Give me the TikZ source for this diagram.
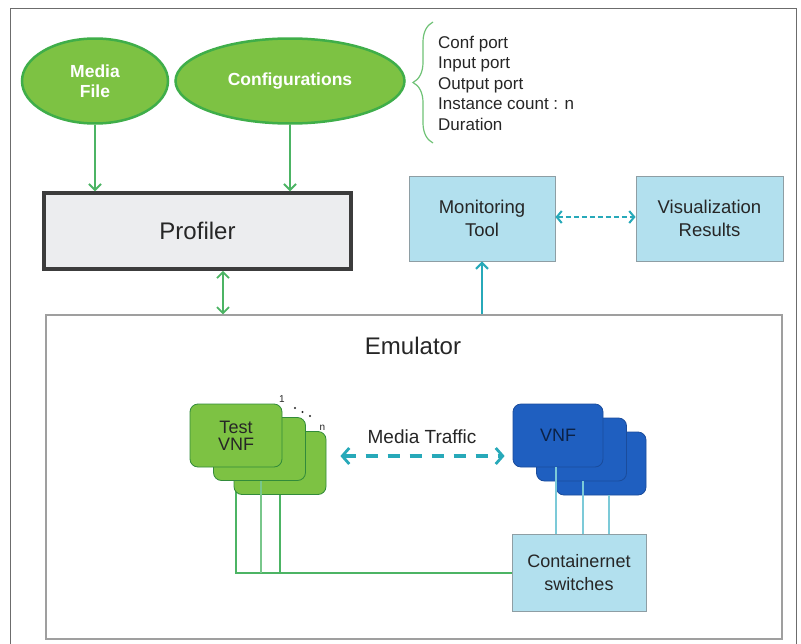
\documentclass[tikz,border=0pt]{standalone}
\usepackage{fontspec}
\setmainfont{Liberation Sans}
\usetikzlibrary{shapes.geometric,arrows.meta,decorations.pathreplacing}

\definecolor{leaf}{HTML}{7DC243}
\definecolor{leafedge}{HTML}{3FAE49}
\definecolor{wire}{HTML}{4CB464}
\definecolor{sky}{HTML}{B2E0EE}
\definecolor{skyedge}{HTML}{8E9EA4}
\definecolor{teal}{HTML}{27A9B9}
\definecolor{navy}{HTML}{1F5FC0}
\definecolor{navyedge}{HTML}{1A4C9C}
\definecolor{ink}{HTML}{262626}
\definecolor{paper}{HTML}{ECEDEF}
\definecolor{tealwire}{HTML}{7CCAD8}

\tikzset{
  source/.style={ellipse, draw=leafedge, fill=leaf, line width=2.5pt, inner sep=0pt,
    text=white, font=\fontsize{17.5}{20}\selectfont\bfseries, align=center},
  infobox/.style={rectangle, draw=skyedge, fill=sky, line width=0.9pt,
    minimum width=146pt, minimum height=85pt, align=center, text=ink,
    font=\fontsize{18.5}{23}\selectfont},
  testvnf/.style={rectangle, rounded corners=8pt, draw=leafedge!80!black, fill=leaf,
    line width=0.8pt, minimum width=92pt, minimum height=63pt, inner sep=0pt},
  vnfbox/.style={rectangle, rounded corners=8pt, draw=navyedge, fill=navy,
    line width=0.8pt, minimum width=90pt, minimum height=63pt, inner sep=0pt},
  greenarrow/.style={draw=wire, line width=1.8pt,
    arrows={-Straight Barb[length=6pt, width=12pt, line width=1.8pt]}},
  tealarrow/.style={draw=teal, line width=2pt},
  greenwire/.style={draw=wire, line width=2pt},
  bluewire/.style={draw=tealwire, line width=1.4pt},
}

\begin{document}
\begin{tikzpicture}[x=1pt, y=-1pt]
  \useasboundingbox (0,0) rectangle (801,643);
  \fill[white] (0,0) rectangle (801,643);
  \begin{scope}
    \clip (0,0) rectangle (801,643);
    % outer frame
    \draw[draw=gray!85!black, line width=1pt] (10,8) rectangle (796,660);
  \end{scope}

  % inputs
  \node[source, minimum width=146pt, minimum height=85pt] (media) at (95,81) {Media\\File};
  \node[source, minimum width=229pt, minimum height=85pt] (conf) at (290,81) {Configurations};

  % list of configuration items
  \draw[draw=leafedge!75!white, line width=1.2pt, decorate,
        decoration={brace, amplitude=20pt}] (433,143) -- (433,22);
  \node[anchor=west, align=left, text=ink, inner sep=0pt,
        font=\fontsize{17}{20.5}\selectfont] (items) at (438,83)
        {Conf port\\Input port\\Output port\\Instance count : n\\Duration};

  % profiler
  \node[rectangle, draw=ink!90!white, fill=paper, line width=3.5pt,
        minimum width=307pt, minimum height=76pt, text=ink,
        font=\fontsize{24}{28}\selectfont] (prof) at (197.5,231) {Profiler};

  % monitoring and results
  \node[infobox] (mon) at (482,218.5) {Monitoring\\Tool};
  \node[infobox, minimum width=147pt] (vis) at (709.5,218.5) {Visualization\\Results};

  % emulator frame
  \node[rectangle, draw=gray!75, line width=1.2pt, fill=white,
        minimum width=736pt, minimum height=324pt] (emu) at (414,477) {};
  \node[text=ink, font=\fontsize{24}{28}\selectfont] (emulabel) at (413,346) {Emulator};

  % arrows into and out of the profiler
  \draw[greenarrow] (media.south) -- (media.south |- prof.north);
  \draw[greenarrow] (conf.south) -- (conf.south |- prof.north);
  \draw[draw=wire, line width=1.8pt,
        arrows={Straight Barb[length=6pt, width=12pt, line width=1.8pt]-Straight Barb[length=6pt, width=12pt, line width=1.8pt]}]
        ([xshift=25.5pt]prof.south) -- ([xshift=25.5pt]prof.south |- emu.north);

  % monitoring arrows
  \draw[tealarrow, arrows={-Straight Barb[length=6pt, width=12pt, line width=2pt]}]
        (mon.south |- emu.north) -- (mon.south);
  \draw[tealarrow, dashed, dash pattern=on 5pt off 3pt,
        arrows={Straight Barb[length=5pt, width=12pt, line width=2pt]-Straight Barb[length=5pt, width=12pt, line width=2pt]}]
        ([yshift=1.5pt]mon.east) -- ([yshift=1.5pt]vis.east -| vis.west);

  % switch box
  \node[rectangle, draw=skyedge, fill=sky, line width=0.9pt, minimum width=134pt,
        minimum height=77pt, align=center, text=ink,
        font=\fontsize{18}{23}\selectfont] (cs) at (579,573) {Containernet\\switches};

  % green links behind the test stack
  \draw[greenwire, line width=1.5pt] (280,463) -- (280,463 |- cs.west);
  \draw[greenwire] (236,463) |- (cs.west);

  % test VNF stack
  \node[testvnf] (t3) at (280,463) {};
  \node[testvnf] (t2) at (259.5,449) {};
  \node[testvnf, text=ink, align=center, font=\fontsize{18}{17}\selectfont] (t1) at (236,435.5) {Test\\VNF};
  \draw[greenwire, line width=1.5pt, draw=wire!75!white] ([xshift=1.5pt]t2.south) -- ([xshift=1.5pt]t2.south |- cs.west);

  \node[text=ink, font=\fontsize{10}{12}\selectfont, inner sep=0pt] (one) at (282,399) {1};
  \node[text=ink, font=\fontsize{10}{12}\selectfont, inner sep=0pt] (enn) at (322.5,428) {n};
  \foreach \px/\py in {295/408, 302.5/412, 310/416}
    \fill[ink] (\px,\py) circle (1.1pt);

  % VNF stack
  \node[vnfbox] (v3) at (601,463.5) {};
  \node[vnfbox] (v2) at (581.5,449.5) {};
  \node[vnfbox, text=navyedge!45!black, font=\fontsize{18}{22}\selectfont] (v1) at (558,435.5) {VNF};

  \draw[bluewire] ([xshift=-2pt]v1.south) -- ([xshift=-2pt]v1.south |- cs.north);
  \draw[bluewire] ([xshift=1.5pt]v2.south) -- ([xshift=1.5pt]v2.south |- cs.north);
  \draw[bluewire] ([xshift=8pt]v3.south) -- ([xshift=8pt]v3.south |- cs.north);

  % media traffic
  \coordinate (mty) at (0,456);
  \draw[draw=teal, line width=3.5pt, dash pattern=on 12pt off 10pt,
        shorten <=14pt, shorten >=8pt,
        arrows={Straight Barb[length=7pt, width=16pt, line width=2.8pt]-Straight Barb[length=7pt, width=16pt, line width=2.8pt]}]
        (t3.east |- mty) -- (v1.west |- mty);
  \node[text=ink, font=\fontsize{19}{22}\selectfont] (mtlabel) at (422,437) {Media Traffic};
\end{tikzpicture}
\end{document}
